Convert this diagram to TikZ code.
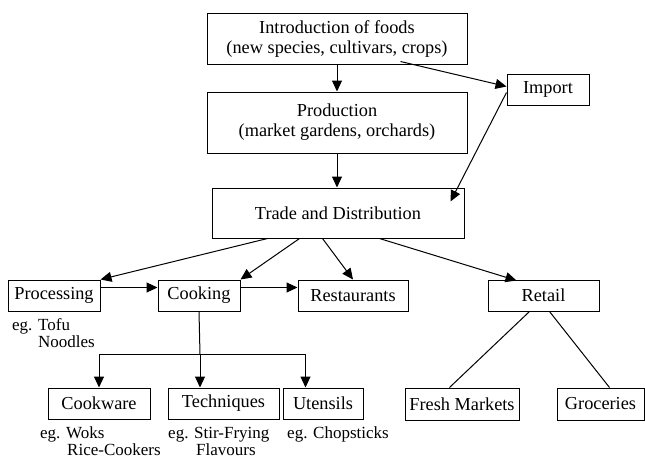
\documentclass[tikz,border=0pt]{standalone}
\usepackage{fontspec}
\setmainfont{Liberation Serif}
\usetikzlibrary{arrows.meta,calc}
\begin{document}
\begin{tikzpicture}[x=1pt,y=-1pt,
  box/.style={draw,line width=1pt,inner sep=0pt,align=center,font=\fontsize{18.3}{20}\selectfont},
  lbl/.style={anchor=base west,inner sep=0pt,font=\fontsize{17}{19}\selectfont},
  arr/.style={line width=1pt,-{Triangle[length=11pt,width=10pt]}},
  ln/.style={line width=1pt}]
\useasboundingbox (0,0) rectangle (645,459);
\node[box,minimum width=260,minimum height=51] (intro) at (337,38.5) {Introduction of foods\\(new species, cultivars, crops)};
\node[box,minimum width=260,minimum height=61] (prod) at (337,122.5) {Production\\(market gardens, orchards)};
\node[box,minimum width=82,minimum height=31] (import) at (548,89.5) {Import};
\node[box,minimum width=252,minimum height=50] (trade) at (338,213) {Trade and Distribution};
\node[box,minimum width=92,minimum height=31] (proc) at (54,295.5) {Processing};
\node[box,minimum width=82,minimum height=31] (cook) at (199,295.5) {Cooking};
\node[box,minimum width=110,minimum height=31] (rest) at (353,295.5) {Restaurants};
\node[box,minimum width=111,minimum height=31] (retail) at (543.5,295.5) {Retail};
\node[box,minimum width=102,minimum height=31] (cookware) at (99,403.5) {Cookware};
\node[box,minimum width=111,minimum height=31] (tech) at (223.5,403.5) {Techniques};
\node[box,minimum width=80,minimum height=31] (utensils) at (323,403.5) {Utensils};
\node[box,minimum width=114,minimum height=32] (fresh) at (462,404) {Fresh Markets};
\node[box,minimum width=87,minimum height=32] (groc) at (600.5,404) {Groceries};
% labels
\node[lbl] (l1) at (12,330) {eg. Tofu};
\node[lbl] (l2) at (38,347) {Noodles};
\node[lbl] (l3) at (40,438) {eg. Woks};
\node[lbl] (l4) at (67,455) {Rice-Cookers};
\node[lbl] (l5) at (168,438) {eg. Stir-Frying};
\node[lbl] (l6) at (196,455) {Flavours};
\node[lbl] (l7) at (287,438) {eg. Chopsticks};
% connectors
\draw[arr] (intro.south) -- (prod.north);
\draw[arr] (prod.south) -- (prod.south |- trade.north);
\draw[arr] ($(intro.south east)+(-67,-3)$) -- ($(import.north west)+(0,13)$);
\draw[arr] ($(import.north west)+(0,19)$) -- ($(trade.north east)+(-14,14)$);
\draw[arr] ($(trade.south west)+(56,0)$) -- (proc.north east);
\draw[arr] ($(trade.south west)+(88,0)$) -- (cook.north east);
\draw[arr] ($(trade.south west)+(111,0)$) -- (rest.north);
\draw[arr] ($(trade.south west)+(168,0)$) -- ($(retail.north west)+(29,1)$);
\draw[arr] ($(proc.north east)+(0,8)$) -- ($(cook.north west)+(0,8)$);
\draw[arr] ($(cook.north east)+(0,8)$) -- ($(rest.north west)+(0,8)$);
\coordinate (split) at ($(cook.south)+(1,43)$);
\coordinate (utin) at ($(utensils.north west)+(23,0)$);
\draw[ln] (cook.south) -- (split);
\draw[arr] (split) -| (cookware.north);
\draw[arr] (split) -- (split |- tech.north);
\draw[arr] (split) -| (utin);
\draw[ln] ($(retail.south west)+(42,0)$) -- ($(fresh.north west)+(45,0)$);
\draw[ln] ($(retail.south west)+(62,0)$) -- ($(groc.north west)+(53,0)$);
\end{tikzpicture}
\end{document}
